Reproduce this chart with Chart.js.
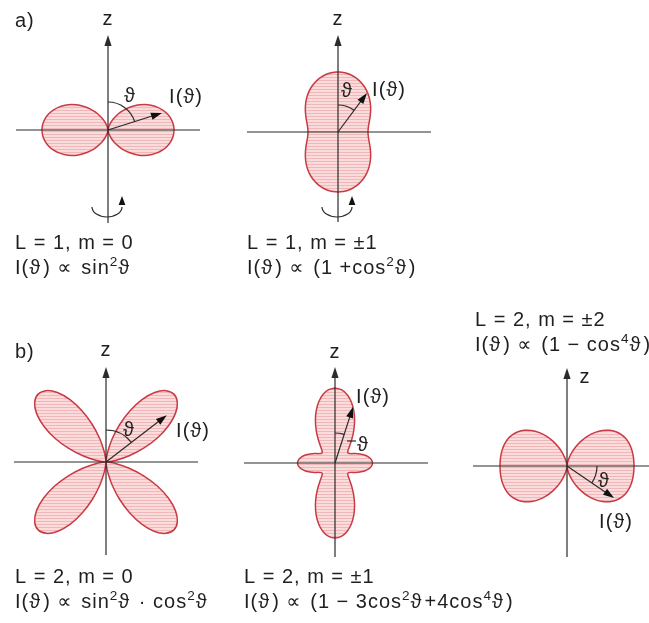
<!DOCTYPE html>
<html>
<head>
<meta charset="utf-8">
<script src="https://cdn.jsdelivr.net/npm/chart.js@4.4.1/dist/chart.umd.min.js"></script>
<style>
  html, body { margin: 0; padding: 0; background: #ffffff; }
  canvas { display: block; }
</style>
</head>
<body>
<canvas id="c" width="649" height="623"></canvas>
<script>
// Polar angle ϑ measured from the z axis, one quadrant (all patterns are
// symmetric about the z axis and about the equatorial plane).
const thetaDeg = [0, 5, 10, 15, 20, 25, 30, 35, 40, 45, 50, 55, 60, 65, 70, 75, 80, 85, 90];

// Relative intensity I(ϑ) for each multipole pattern
const intensityL1m0 = [0, 0.0076, 0.0302, 0.0670, 0.1170, 0.1786, 0.25, 0.3290, 0.4132, 0.5,
                       0.5868, 0.6710, 0.75, 0.8214, 0.8830, 0.9330, 0.9698, 0.9924, 1];
const intensityL1m1 = [2, 1.992, 1.970, 1.933, 1.883, 1.821, 1.75, 1.671, 1.587, 1.5,
                       1.413, 1.329, 1.25, 1.179, 1.117, 1.067, 1.030, 1.008, 1];
const intensityL2m0 = [0, 0.0075, 0.0293, 0.0625, 0.1033, 0.1467, 0.1875, 0.2208, 0.2425, 0.25,
                       0.2425, 0.2208, 0.1875, 0.1467, 0.1033, 0.0625, 0.0293, 0.0075, 0];
const intensityL2m1 = [2, 1.962, 1.853, 1.683, 1.470, 1.235, 1.0, 0.788, 0.617, 0.5,
                       0.443, 0.446, 0.5, 0.592, 0.704, 0.817, 0.913, 0.977, 1];
const intensityL2m2 = [0, 0.0151, 0.0594, 0.1295, 0.2203, 0.3253, 0.4375, 0.5498, 0.6556, 0.75,
                       0.8293, 0.8918, 0.9375, 0.9681, 0.9863, 0.9955, 0.9991, 0.9999, 1];

const panelTitles = ['L = 1, m = 0', 'L = 1, m = ±1', 'L = 2, m = 0', 'L = 2, m = ±1', 'L = 2, m = ±2'];
const panelFormulas = ['I(ϑ) ∝ sin^2ϑ', 'I(ϑ) ∝ (1 +cos^2ϑ)', 'I(ϑ) ∝ sin^2ϑ · cos^2ϑ',
                       'I(ϑ) ∝ (1 − 3cos^2ϑ+4cos^4ϑ)', 'I(ϑ) ∝ (1 − cos^4ϑ)'];
const groupLabels = ['a)', 'b)'];

// Direction of the drawn I(ϑ) vector: angle from +z (deg, clockwise) and length (intensity units)
const vectorAngle = [72.5, 36.6, 52.4, 17.8, 124.2];
const vectorLength = [0.857, 1.62, 0.20, 1.57, 0.85];

const intensities = [intensityL1m0, intensityL1m1, intensityL2m0, intensityL2m1, intensityL2m2];

// Page layout of each diagram: origin (px), pixels per intensity unit, axis extents, label spots
const W = 649, H = 623;
const layout = [
  { ox: 108, oy: 130, k: 66,  hx: [16, 200],  zTop: 35,  zBot: 223, zLab: [108, 19],
    arcR: 28, thLab: [130, 96], iLab: [186, 97], text: [15, 249], rot: [107, 207, 15, 10] },
  { ox: 338, oy: 132, k: 30,  hx: [247, 431], zTop: 35,  zBot: 222, zLab: [338, 19],
    arcR: 27, thLab: [347, 91], iLab: [389, 90], text: [247, 249], rot: [337, 207, 15, 10] },
  { ox: 106, oy: 462, k: 384, hx: [14, 198],  zTop: 367, zBot: 555, zLab: [106, 350],
    arcR: 32, thLab: [129, 430], iLab: [193, 431], text: [15, 583] },
  { ox: 335, oy: 463, k: 37.5, hx: [244, 428], zTop: 367, zBot: 557, zLab: [335, 352],
    arcR: 30, thLab: [363, 445], iLab: [373, 397], text: [244, 583], leader: [347, 441, 356, 441] },
  { ox: 567, oy: 466, k: 67,  hx: [473, 649], zTop: 368, zBot: 557, zLab: [585, 377],
    arcR: 30, thLab: [604, 481], iLab: [616, 522], text: [475, 326] }
];
const groupPos = [[15, 21], [15, 352]];

// Striped pink fill
function stripePattern() {
  const p = document.createElement('canvas');
  p.width = 4; p.height = 3;
  const g = p.getContext('2d');
  g.fillStyle = '#fadcdc'; g.fillRect(0, 0, 4, 3);
  g.fillStyle = '#f1b7b8'; g.fillRect(0, 2, 4, 1);
  return g.createPattern(p, 'repeat');
}
const ctx0 = document.getElementById('c').getContext('2d');
const fillPattern = stripePattern();

// Full closed curve from the quadrant table
function patternPoints(values) {
  const pts = [];
  for (let a = 0; a <= 360; a += 5) {
    let t = a % 180;
    if (t > 90) t = 180 - t;
    const r = values[thetaDeg.indexOf(t)];
    const rad = a * Math.PI / 180;
    pts.push({ x: r * Math.sin(rad), y: r * Math.cos(rad) });
  }
  return pts;
}

const scales = {};
const datasets = intensities.map((vals, i) => {
  const L = layout[i];
  scales['x' + i] = { type: 'linear', display: false, min: -L.ox / L.k, max: (W - L.ox) / L.k };
  scales['y' + i] = { type: 'linear', display: false, min: -(H - L.oy) / L.k, max: L.oy / L.k };
  return {
    label: panelTitles[i],
    data: patternPoints(vals),
    xAxisID: 'x' + i,
    yAxisID: 'y' + i,
    borderColor: '#c93a44',
    borderWidth: 1.5,
    backgroundColor: fillPattern,
    fill: 'shape',
    tension: 0.3,
    pointRadius: 0,
    pointHoverRadius: 0
  };
});

const FONT = '"Liberation Sans", Arial, "DejaVu Sans", sans-serif';
const INK = '#1f1f1f';
const AXIS = '#2b2b2b';
const FS = 20;

// Text with ^x superscripts
function drawRich(ctx, str, x, y, size) {
  let cx = x;
  for (let i = 0; i < str.length; i++) {
    let ch = str[i], sup = false;
    if (ch === '^') { sup = true; ch = str[++i]; }
    const s = sup ? size * 0.68 : size;
    ctx.font = s + 'px ' + FONT;
    ctx.fillText(ch, cx, sup ? y - size * 0.42 : y);
    cx += ctx.measureText(ch).width + (ch === 'ϑ' || ch === '∝' ? 2 : 0);
  }
}

function arrowHead(ctx, x1, y1, x2, y2, len, half) {
  const a = Math.atan2(y2 - y1, x2 - x1);
  ctx.beginPath();
  ctx.moveTo(x2, y2);
  ctx.lineTo(x2 - len * Math.cos(a) + half * Math.sin(a), y2 - len * Math.sin(a) - half * Math.cos(a));
  ctx.lineTo(x2 - len * Math.cos(a) - half * Math.sin(a), y2 - len * Math.sin(a) + half * Math.cos(a));
  ctx.closePath();
  ctx.fill();
}

const diagramDecor = {
  id: 'diagramDecor',
  afterDatasetsDraw(chart) {
    const ctx = chart.ctx;
    ctx.save();
    ctx.letterSpacing = '1px';
    layout.forEach((L, i) => {
      const xs = chart.scales['x' + i], ys = chart.scales['y' + i];
      const ox = xs.getPixelForValue(0), oy = ys.getPixelForValue(0);
      ctx.strokeStyle = AXIS; ctx.fillStyle = AXIS; ctx.lineWidth = 1.2;
      // axes
      ctx.beginPath();
      ctx.moveTo(L.hx[0], oy); ctx.lineTo(L.hx[1], oy);
      ctx.moveTo(ox, L.zBot); ctx.lineTo(ox, L.zTop + 6);
      ctx.stroke();
      arrowHead(ctx, ox, L.zBot, ox, L.zTop, 11, 3.6);
      // I(ϑ) vector
      const a = vectorAngle[i] * Math.PI / 180;
      const tx = xs.getPixelForValue(vectorLength[i] * Math.sin(a));
      const ty = ys.getPixelForValue(vectorLength[i] * Math.cos(a));
      ctx.beginPath();
      ctx.moveTo(ox, oy);
      ctx.lineTo(tx - 6 * Math.sin(a), ty + 6 * Math.cos(a));
      ctx.stroke();
      ctx.fillStyle = '#111';
      arrowHead(ctx, ox, oy, tx, ty, 11, 3.6);
      // angle arc
      ctx.beginPath();
      if (i === 4) {
        ctx.arc(ox, oy, L.arcR, 0, a - Math.PI / 2);
      } else {
        ctx.arc(ox, oy, L.arcR, -Math.PI / 2, a - Math.PI / 2);
      }
      ctx.stroke();
      if (L.leader) {
        ctx.beginPath();
        ctx.moveTo(L.leader[0], L.leader[1]); ctx.lineTo(L.leader[2], L.leader[3]);
        ctx.stroke();
      }
      // rotation symbol about z
      if (L.rot) {
        const [rx, ry, ea, eb] = L.rot;
        ctx.beginPath();
        ctx.ellipse(rx, ry, ea, eb, 0, Math.PI, 0, true);
        ctx.stroke();
        ctx.fillStyle = '#111';
        arrowHead(ctx, rx + ea, ry + 2, rx + ea, ry - 11, 9, 3.4);
      }
      // labels
      ctx.fillStyle = INK;
      ctx.textBaseline = 'middle';
      ctx.font = FS + 'px ' + FONT;
      ctx.textAlign = 'center';
      ctx.fillText('z', L.zLab[0], L.zLab[1]);
      ctx.fillText('ϑ', L.thLab[0], L.thLab[1]);
      ctx.fillText('I(ϑ)', L.iLab[0], L.iLab[1]);
      ctx.textAlign = 'left';
      ctx.textBaseline = 'alphabetic';
      drawRich(ctx, panelTitles[i], L.text[0], L.text[1], FS);
      drawRich(ctx, panelFormulas[i], L.text[0], L.text[1] + 25, FS);
    });
    ctx.font = FS + 'px ' + FONT;
    ctx.textBaseline = 'middle';
    ctx.textAlign = 'left';
    groupLabels.forEach((g, j) => ctx.fillText(g, groupPos[j][0], groupPos[j][1]));
    ctx.restore();
  }
};

new Chart(ctx0, {
  type: 'line',
  data: { datasets },
  options: {
    responsive: false,
    animation: false,
    devicePixelRatio: 1,
    layout: { padding: 0 },
    scales,
    plugins: { legend: { display: false }, tooltip: { enabled: false } },
    events: []
  },
  plugins: [diagramDecor]
});
</script>
</body>
</html>
